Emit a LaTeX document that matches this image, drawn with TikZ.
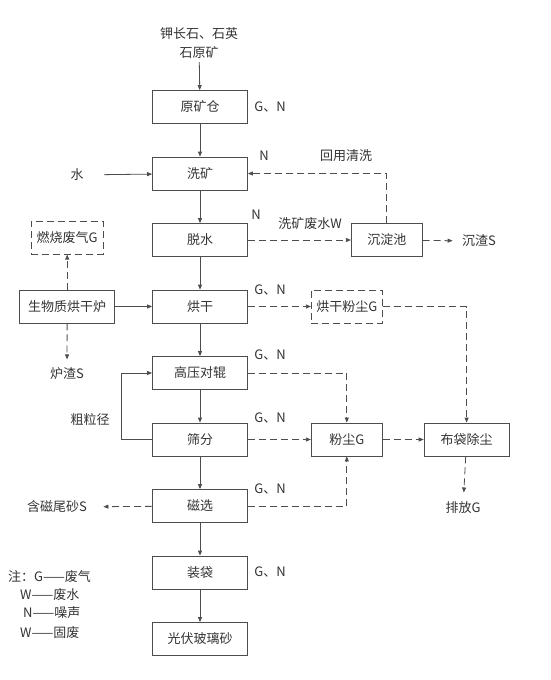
\documentclass[tikz,border=0pt]{standalone}
\usepackage{fontspec}
\setmainfont{Noto Sans CJK SC}
\usetikzlibrary{arrows.meta,positioning}
\definecolor{lineg}{HTML}{4D4D4D}
\definecolor{textg}{HTML}{333333}

\begin{document}
\begin{tikzpicture}[x=1pt,y=-1pt,>={Triangle[length=5pt,width=4pt]},
  font=\fontsize{13}{19}\selectfont,
  box/.style={draw=lineg,line width=0.8pt,minimum width=95pt,minimum height=33pt,inner sep=1pt,text=textg},
  dbox/.style={box,dash pattern=on 7pt off 4pt},
  lbl/.style={text=textg},
  arr/.style={->,draw=lineg,line width=0.8pt},
  darr/.style={arr,dash pattern=on 7pt off 4pt}]

  \useasboundingbox (0,0) rectangle (551,680);

  % ==========================================
  % MAIN PROCESS LINE
  % ==========================================
  \begin{scope}[node distance=32.7pt]
      \node[lbl,align=center] (raw) at (199,43) {钾长石、石英\\石原矿};
      \node[box] (ore) at (200,107) {原矿仓};
      \node[box,below=of ore] (wash) {洗矿};
      \node[box,below=of wash] (dewater) {脱水};
      \node[box,below=of dewater] (dry) {烘干};
      \node[box,below=of dry] (roll) {高压对辊};
      \node[box,below=of roll] (sieve) {筛分};
      \node[box,below=of sieve] (magsep) {磁选};
      \node[box,below=of magsep] (bag) {装袋};
      \node[box,below=of bag] (product) {光伏玻璃砂};

      \draw[arr] (raw) -- (ore);
      \foreach \a/\b in {ore/wash,wash/dewater,dewater/dry,dry/roll,roll/sieve,sieve/magsep,magsep/bag,bag/product}
        \draw[arr] (\a) -- (\b);
  \end{scope}

  % pollutant marks beside the boxes
  \node[lbl,right=3pt of ore] (ore_gn) {G、N};
  \node[lbl,anchor=west] (wash_n) at ([xshift=8pt,yshift=1pt]wash.north east) {N};
  \node[lbl,anchor=west] (dewater_n) at ([xshift=0pt,yshift=8pt]dewater.north east) {N};
  \node[lbl,anchor=west] (dry_gn) at ([xshift=3pt]dry.north east) {G、N};
  \node[lbl,anchor=west] (roll_gn) at ([xshift=3pt,yshift=1pt]roll.north east) {G、N};
  \node[lbl,anchor=west] (sieve_gn) at ([xshift=3pt,yshift=5pt]sieve.north east) {G、N};
  \node[lbl,anchor=west] (magsep_gn) at ([xshift=3pt]magsep.north east) {G、N};
  \node[lbl,right=3pt of bag] (bag_gn) {G、N};

  % ==========================================
  % WATER LOOP
  % ==========================================
  \node[lbl] (water) at (77,175) {水};
  \draw[arr,shorten <=17pt] (water) -- (wash);

  \node[box,minimum width=71pt,right=103pt of dewater] (settle) {沉淀池};
  \node[lbl] (slag) at (479,241) {沉渣S};
  \node[lbl] (wwater) at (310,224) {洗矿废水W};
  \node[lbl] (reuse) at (346,156) {回用清洗};

  \draw[darr] (dewater) -- (settle);
  \draw[darr,shorten >=6pt] (settle) -- (slag);
  \draw[darr] (settle.north) |- (wash.east);

  % ==========================================
  % BIOMASS DRYER
  % ==========================================
  \node[box,left=37pt of dry] (furnace) {生物质烘干炉};
  \node[dbox,minimum width=72pt,above=35pt of furnace] (fluegas) {燃烧废气G};
  \node[lbl] (ash) at (67,374) {炉渣S};

  \draw[arr] (furnace) -- (dry);
  \draw[darr] (furnace) -- (fluegas);
  \draw[darr,shorten >=5pt] (furnace) -- (ash);

  % ==========================================
  % DUST COLLECTION
  % ==========================================
  \node[dbox,minimum width=71pt,right=63pt of dry] (drydust) {烘干粉尘G};
  \node[box,minimum width=71pt,right=63pt of sieve] (dust) {粉尘G};
  \node[box,minimum width=85pt,right=41pt of dust] (filter) {布袋除尘};
  \node[lbl] (emit) at (463,508) {排放G};

  \draw[darr] (dry) -- (drydust);
  \draw[darr] (drydust.east) -| (filter.north);
  \draw[darr] (roll.east) -| (dust.north);
  \draw[darr] (sieve) -- (dust);
  \draw[darr] (magsep.east) -| (dust.south);
  \draw[darr] (dust) -- (filter);
  \draw[darr,shorten >=6pt] (filter) -- (emit);

  % tailings and coarse return
  \node[lbl] (tailings) at (57,507) {含磁尾砂S};
  \draw[darr,shorten >=13pt] (magsep) -- (tailings);

  \node[lbl] (coarse) at (90,420) {粗粒径};
  \draw[arr] (sieve.west) -- ++(-31,0) |- (roll.west);

  % ==========================================
  % LEGEND
  % ==========================================
  \begin{scope}[every node/.style={lbl,anchor=west,inner sep=0pt}]
      \node (leg_g) at (8,577) {注：G——废气};
      \node (leg_w) at (20,595) {W——废水};
      \node (leg_n) at (23,613) {N——噪声};
      \node (leg_s) at (20,633) {W——固废};
  \end{scope}

\end{tikzpicture}
\end{document}
